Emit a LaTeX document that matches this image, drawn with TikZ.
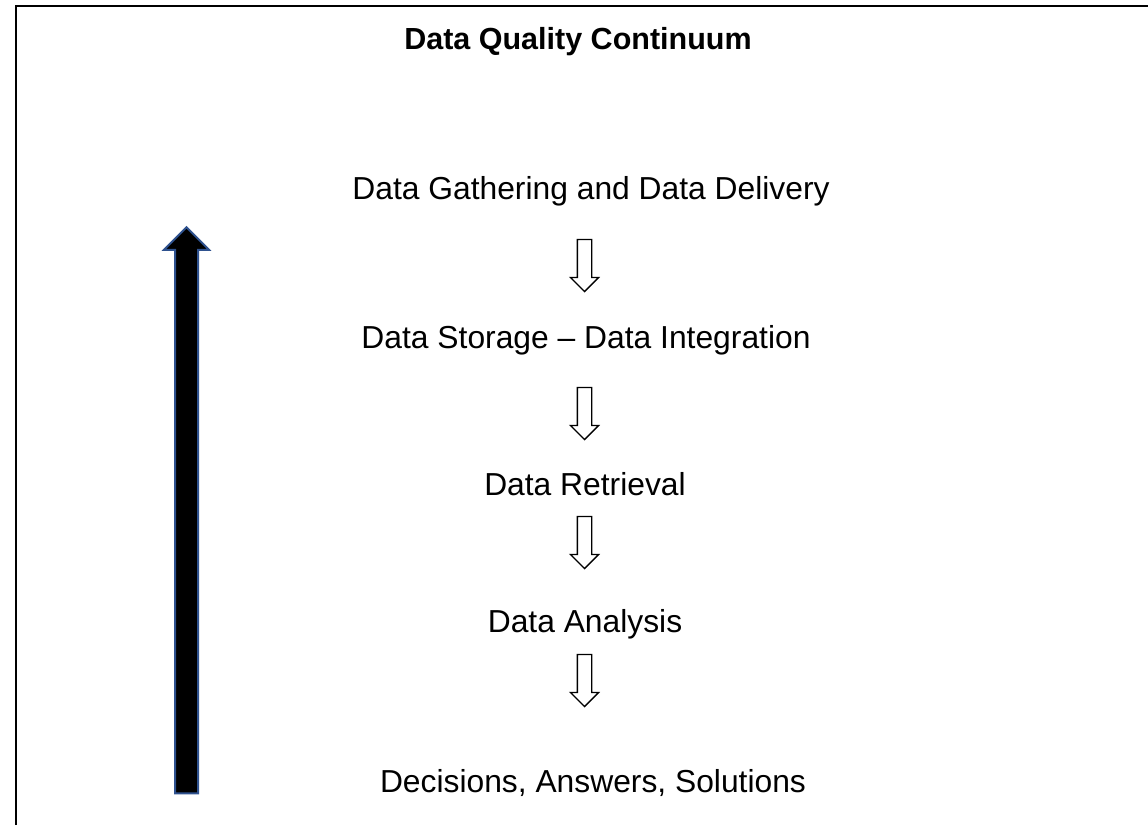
\documentclass[tikz,border=0pt]{standalone}
\usepackage{fontspec}
\setmainfont{Liberation Sans}
\usetikzlibrary{shapes.arrows}
\definecolor{arrowblue}{RGB}{47,82,143}
\begin{document}
\begin{tikzpicture}[x=1pt,y=-1pt,
  label/.style={anchor=base,inner sep=0pt,font=\fontsize{31.8}{38}\selectfont},
  titlelabel/.style={anchor=base,inner sep=0pt,font=\fontsize{30.5}{37}\selectfont\bfseries},
  flowarrow/.style={single arrow,draw=black,fill=white,line width=1.3pt,rotate=-90,
    minimum height=52pt,inner xsep=0pt,inner ysep=6.5pt,single arrow head extend=7pt,outer sep=0pt},
  bigarrow/.style={single arrow,draw=arrowblue,fill=black,line width=2pt,rotate=90,
    minimum height=566pt,inner xsep=0pt,inner ysep=10.5pt,single arrow head extend=11pt,outer sep=0pt}]
\useasboundingbox (0,0) rectangle (1148,825);
% frame
\coordinate (fbl) at (16,825);
\coordinate (ftl) at (16,6);
\coordinate (ftr) at (1148,6);
\draw[line width=2pt] (fbl) -- (ftl) -- (ftr);
% title
\node[titlelabel] (title) at (578,49) {Data Quality Continuum};
% steps
\node[label] (s1) at (591,199) {Data Gathering and Data Delivery};
\node[label] (s2) at (586,348) {Data Storage – Data Integration};
\node[label] (s3) at (585,495) {Data Retrieval};
\node[label] (s4) at (585,632) {Data Analysis};
\node[label] (s5) at (593,792) {Decisions, Answers, Solutions};
% flow arrows
\node[flowarrow] (a1) at (584.5,262) {};
\node[flowarrow] (a2) at (584.5,410) {};
\node[flowarrow] (a3) at (584.5,539) {};
\node[flowarrow] (a4) at (584.5,677) {};
% big upward arrow
\node[bigarrow] (big) at (186.5,516) {};
\end{tikzpicture}
\end{document}
